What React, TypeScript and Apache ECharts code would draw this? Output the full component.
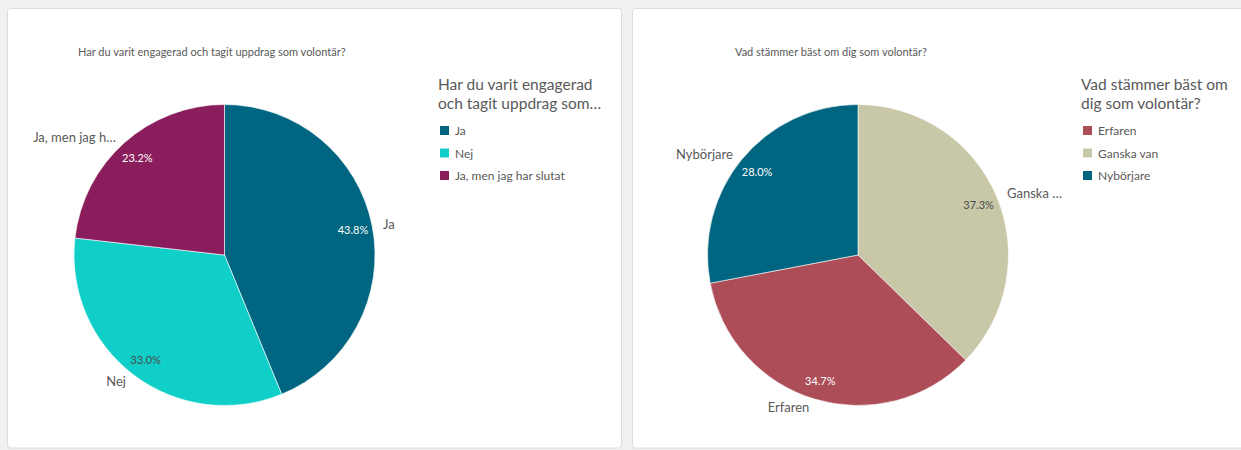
import React, { useEffect, useRef } from "react";
import * as echarts from "echarts";

// ---- data ----
const titleLeft = "Har du varit engagerad och tagit uppdrag som volontär?";
const legendTitleLeft = "Har du varit engagerad\noch tagit uppdrag som…";
const catsLeft = ["Ja", "Nej", "Ja, men jag har slutat"];
const valuesLeft = [43.8, 33.0, 23.2];
const outerLabelsLeft = ["Ja", "Nej", "Ja, men jag h…"];

const titleRight = "Vad stämmer bäst om dig som volontär?";
const legendTitleRight = "Vad stämmer bäst om\ndig som volontär?";
const catsRight = ["Ganska van", "Erfaren", "Nybörjare"];
const valuesRight = [37.3, 34.7, 28.0];
const outerLabelsRight = ["Ganska …", "Erfaren", "Nybörjare"];
const legendOrderRight = ["Erfaren", "Ganska van", "Nybörjare"];

// ---- styles ----
const colors: Record<string, string> = {
  "Ja": "#006580",
  "Nej": "#10cfc9",
  "Ja, men jag har slutat": "#8a1e5c",
  "Erfaren": "#ac4d57",
  "Ganska van": "#c8c7a8",
  "Nybörjare": "#006580",
};
const pctColors: Record<string, string> = {
  "Ja": "#ffffff",
  "Nej": "#4a4a4a",
  "Ja, men jag har slutat": "#ffffff",
  "Erfaren": "#ffffff",
  "Ganska van": "#4a4a4a",
  "Nybörjare": "#ffffff",
};
const FONT = "Lato, 'Noto Sans', sans-serif";
const TXT = "#595959";

function pieSeries(cats: string[], vals: number[], outer: string[], cx: number, cy: number, R: number) {
  const main = {
    type: "pie",
    center: [cx, cy],
    radius: [0, R],
    startAngle: 90,
    clockwise: true,
    silent: true,
    itemStyle: { borderColor: "#ffffff", borderWidth: 0.6 },
    label: {
      show: true,
      position: "outside",
      fontFamily: FONT,
      fontSize: 13,
      color: TXT,
      distanceToLabelLine: 3,
      formatter: (p: any) => outer[p.dataIndex],
    },
    labelLine: { show: false, length: 8, length2: 0 },
    data: cats.map((c, i) => ({ name: c, value: vals[i], itemStyle: { color: colors[c] } })),
  };
  const overlay = {
    type: "pie",
    center: [cx, cy],
    radius: [R * 0.7, R],
    startAngle: 90,
    clockwise: true,
    silent: true,
    itemStyle: { color: "rgba(0,0,0,0)" },
    label: {
      show: true,
      position: "inside",
      fontFamily: FONT,
      fontSize: 11,
      formatter: (p: any) => `${p.value.toFixed(1)}%`,
    },
    labelLine: { show: false },
    data: cats.map((c, i) => ({
      name: c,
      value: vals[i],
      label: { color: pctColors[c] },
    })),
  };
  return [main, overlay];
}

export default function App() {
  const ref = useRef<HTMLDivElement>(null);
  useEffect(() => {
    if (!ref.current) return;
    const chart = echarts.init(ref.current, undefined, { renderer: "svg" });
    const legendCommon = {
      orient: "vertical",
      icon: "rect",
      itemWidth: 11,
      itemHeight: 11,
      itemGap: 9.5,
      selectedMode: false,
      textStyle: { fontFamily: FONT, fontSize: 12, color: TXT },
    };
    chart.setOption({
      animation: false,
      backgroundColor: "#f0f0f0",
      graphic: [
        {
          type: "rect",
          z: -10,
          shape: { x: 7.5, y: 8.5, width: 614, height: 439.5, r: 3 },
          style: { fill: "#ffffff", stroke: "#dcdcdc", lineWidth: 1 },
          silent: true,
        },
        {
          type: "rect",
          z: -10,
          shape: { x: 632.5, y: 8.5, width: 620, height: 439.5, r: 3 },
          style: { fill: "#ffffff", stroke: "#dcdcdc", lineWidth: 1 },
          silent: true,
        },
      ],
      title: [
        {
          text: titleLeft,
          left: 73,
          top: 41,
          textStyle: { fontFamily: FONT, fontSize: 11, fontWeight: "normal", color: TXT },
        },
        {
          text: legendTitleLeft,
          left: 433,
          top: 69,
          textStyle: { fontFamily: FONT, fontSize: 15.5, fontWeight: "normal", color: TXT, lineHeight: 19 },
        },
        {
          text: titleRight,
          left: 730,
          top: 41,
          textStyle: { fontFamily: FONT, fontSize: 11, fontWeight: "normal", color: TXT },
        },
        {
          text: legendTitleRight,
          left: 1076,
          top: 69,
          textStyle: { fontFamily: FONT, fontSize: 15.5, fontWeight: "normal", color: TXT, lineHeight: 19 },
        },
      ],
      legend: [
        { ...legendCommon, left: 433, top: 119, data: catsLeft },
        { ...legendCommon, left: 1076, top: 119, data: legendOrderRight },
      ],
      series: [
        ...pieSeries(catsLeft, valuesLeft, outerLabelsLeft, 224.5, 255, 150.5),
        ...pieSeries(catsRight, valuesRight, outerLabelsRight, 858, 255, 150.5),
      ],
    });
    return () => chart.dispose();
  }, []);
  return (
    <div
      ref={ref}
      style={{ position: "fixed", left: 0, top: 0, width: 1241, height: 450 }}
    />
  );
}
